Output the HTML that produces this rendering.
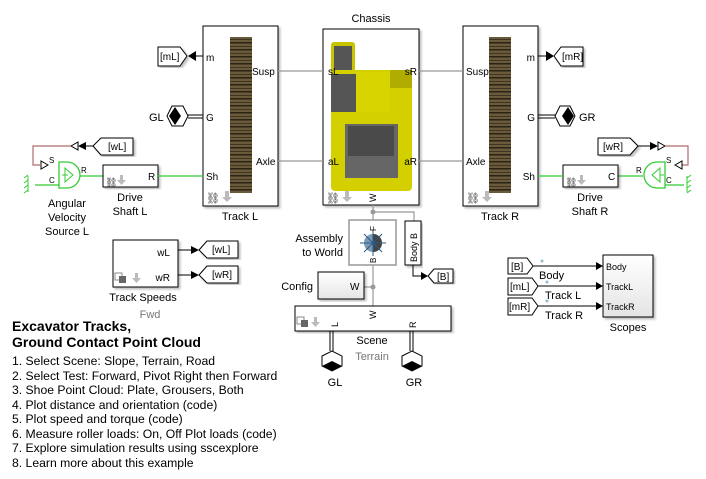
<!DOCTYPE html>
<html><head><meta charset="utf-8"><style>
body{margin:0;background:#fff;}
svg{display:block;font-family:"Liberation Sans",Arial,sans-serif;}
</style></head><body>
<svg width="706" height="479" viewBox="0 0 706 479" xmlns="http://www.w3.org/2000/svg">
<defs>
<pattern id="stripes" width="22" height="7" patternUnits="userSpaceOnUse">
<rect width="22" height="7" fill="#6a5a3a"/><rect y="0" width="22" height="1.5" fill="#2a2416"/><rect y="4" width="22" height="1" fill="#3e3524"/></pattern>
<linearGradient id="gb" x1="0" y1="0" x2="0" y2="1"><stop offset="0" stop-color="#fff"/><stop offset="1" stop-color="#e4e4e4"/></linearGradient>
<filter id="sh" x="-5%" y="-5%" width="115%" height="115%"><feDropShadow dx="2" dy="2" stdDeviation="1" flood-color="#000" flood-opacity="0.25"/></filter>
</defs>
<g font-size="11" fill="#000">
<rect x="203" y="26" width="75" height="180" fill="#fff" stroke="#000" filter="url(#sh)"/>
<rect x="230" y="37" width="22" height="156" fill="url(#stripes)"/>
<text x="206" y="61" font-size="10">m</text>
<text x="252" y="75" font-size="10">Susp</text>
<text x="206" y="121" font-size="10">G</text>
<text x="256" y="165" font-size="10">Axle</text>
<text x="206" y="180" font-size="10">Sh</text>
<text x="240" y="220" text-anchor="middle">Track L</text>
<text x="206" y="202" fill="#333">⛓</text><path d="M225 191h4v6h3l-5 5-5-5h3z" fill="#bbb"/>
<rect x="463" y="26" width="75" height="180" fill="#fff" stroke="#000" filter="url(#sh)"/>
<rect x="489" y="37" width="22" height="156" fill="url(#stripes)"/>
<text x="535" y="61" font-size="10" text-anchor="end">m</text>
<text x="466" y="75" font-size="10">Susp</text>
<text x="535" y="121" font-size="10" text-anchor="end">G</text>
<text x="466" y="165" font-size="10">Axle</text>
<text x="535" y="180" font-size="10" text-anchor="end">Sh</text>
<text x="500" y="220" text-anchor="middle">Track R</text>
<text x="466" y="202" fill="#333">⛓</text><path d="M485 191h4v6h3l-5 5-5-5h3z" fill="#bbb"/>
<text x="371" y="22" text-anchor="middle">Chassis</text>
<rect x="323" y="29" width="96" height="176" fill="#fff" stroke="#000" filter="url(#sh)"/>
<rect x="331" y="42" width="24" height="40" rx="3" fill="#c8c400"/>
<rect x="334" y="46" width="18" height="30" fill="#555"/>
<rect x="331" y="70" width="81" height="121" rx="4" fill="#d4d000"/>
<rect x="331" y="74" width="25" height="38" fill="#555"/>
<rect x="356" y="72" width="34" height="40" fill="#d8d400"/>
<rect x="390" y="70" width="22" height="18" fill="#b0ac00"/>
<rect x="345" y="124" width="53" height="54" fill="#666"/>
<rect x="348" y="126" width="46" height="30" fill="#4a4a4a"/>
<text x="328" y="75" font-size="10">sL</text>
<text x="328" y="165" font-size="10">aL</text>
<text x="417" y="75" font-size="10" text-anchor="end">sR</text>
<text x="417" y="165" font-size="10" text-anchor="end">aR</text>
<text x="326" y="202" fill="#333">⛓</text><path d="M345 191h4v6h3l-5 5-5-5h3z" fill="#bbb"/>
<text transform="translate(376,202) rotate(-90)" font-size="9">W</text>
<g stroke="#999" stroke-width="1.2">
<line x1="278" y1="71" x2="323" y2="71"/><line x1="278" y1="161" x2="323" y2="161"/>
<line x1="419" y1="71" x2="463" y2="71"/><line x1="419" y1="161" x2="463" y2="161"/>
<polyline points="373,205 373,288 373,306" fill="none"/>
<polyline points="373,212 414,212 414,221" fill="none"/>
<line x1="364" y1="287" x2="373" y2="287"/>
</g>
<circle cx="373" cy="212" r="2.5" fill="#999"/><circle cx="373" cy="287" r="2.5" fill="#999"/>
<polygon points="158,47 180,47 187,56 180,66 158,66" fill="#fff" stroke="#000" filter="url(#sh)"/>
<text x="160" y="60" font-size="10">[mL]</text>
<polygon points="188,56 196,51 196,61" fill="#000"/><line x1="196" y1="56" x2="203" y2="56" stroke="#000"/>
<polygon points="172,106 183,106 188,116 183,126 172,126 167,116" fill="#fff" stroke="#000"/>
<polygon points="175,107 181,116 175,125 169,116" fill="#000"/>
<line x1="188" y1="115" x2="203" y2="115" stroke="#000"/><line x1="188" y1="118" x2="203" y2="118" stroke="#000"/>
<text x="149" y="121" font-size="11">GL</text>
<line x1="538" y1="56" x2="546" y2="56" stroke="#000"/><polygon points="554,56 546,51 546,61" fill="#000"/>
<polygon points="554,56 561,47 583,47 583,66 561,66" fill="#fff" stroke="#000" filter="url(#sh)"/>
<text x="562" y="60" font-size="10">[mR]</text>
<line x1="538" y1="115" x2="555" y2="115" stroke="#000"/><line x1="538" y1="118" x2="555" y2="118" stroke="#000"/>
<polygon points="560,106 570,106 575,116 570,126 560,126 555,116" fill="#fff" stroke="#000"/>
<polygon points="568,107 574,116 568,125 562,116" fill="#000"/>
<text x="579" y="121" font-size="11">GR</text>
<polygon points="93,146 101,138 133,138 133,155 101,155" fill="#fff" stroke="#000" filter="url(#sh)"/>
<text x="108" y="150" font-size="10">[wL]</text>
<line x1="85" y1="146" x2="93" y2="146" stroke="#000"/><polygon points="78,146 86,142 86,150" fill="#000"/><polygon points="71,146 78,142 78,150" fill="#fff" stroke="#000"/>
<polyline points="71,146 33,146 33,165 40,165" fill="none" stroke="#b06a6a" stroke-width="1.2"/>
<polygon points="48,165 41,161 41,169" fill="#fff" stroke="#000"/>
<path d="M59,162 h8 a13,13 0 0 1 0,26 h-8 z" fill="#fff" stroke="#3c3" stroke-width="1.3"/>
<path d="M65,168 l8,7 l-8,7 z M62,175h6" fill="none" stroke="#3c3"/>
<text x="49" y="163" font-size="8">S</text><text x="49" y="183" font-size="8">C</text><text x="81" y="173" font-size="8">R</text>
<line x1="35" y1="185" x2="59" y2="185" stroke="#3c3" stroke-width="1.3"/>
<path d="M28,176v16 M24,178l4,-3 M24,183l4,-3 M24,188l4,-3 M24,193l4,-3" stroke="#3c3" fill="none"/>
<line x1="80" y1="176" x2="103" y2="176" stroke="#3c3" stroke-width="1.3"/>
<text x="67" y="207" text-anchor="middle" font-size="11">Angular</text>
<text x="67" y="221" text-anchor="middle" font-size="11">Velocity</text>
<text x="67" y="235" text-anchor="middle" font-size="11">Source L</text>
<rect x="103" y="165" width="55" height="22" fill="#fff" stroke="#000" filter="url(#sh)"/>
<text x="148" y="180" font-size="10">R</text>
<text x="105" y="186" font-size="10" fill="#333">⛓</text><path d="M120 175h3v5h3l-4.5 5-4.5-5h3z" fill="#bbb"/>
<line x1="158" y1="176" x2="203" y2="176" stroke="#3c3" stroke-width="1.3"/>
<text x="130" y="201" text-anchor="middle">Drive</text><text x="130" y="215" text-anchor="middle">Shaft L</text>
<polygon points="598,138 630,138 638,146 630,155 598,155" fill="#fff" stroke="#000" filter="url(#sh)"/>
<text x="603" y="150" font-size="10">[wR]</text>
<line x1="638" y1="146" x2="651" y2="146" stroke="#000"/><polygon points="658,146 650,142 650,150" fill="#000"/><polygon points="665,146 658,142 658,150" fill="#fff" stroke="#000"/>
<polyline points="665,146 688,146 688,165 682,165" fill="none" stroke="#b06a6a" stroke-width="1.2"/>
<polygon points="675,165 682,161 682,169" fill="#fff" stroke="#000"/>
<path d="M665,162 h-8 a13,13 0 0 0 0,26 h8 z" fill="#fff" stroke="#3c3" stroke-width="1.3"/>
<path d="M660,168 l-8,7 l8,7 z M660,175h4" fill="none" stroke="#3c3"/>
<text x="666" y="163" font-size="8">S</text><text x="666" y="183" font-size="8">C</text><text x="636" y="173" font-size="8">R</text>
<line x1="665" y1="185" x2="684" y2="185" stroke="#3c3" stroke-width="1.3"/>
<path d="M687,176v16 M687,178l4,-3 M687,183l4,-3 M687,188l4,-3 M687,193l4,-3" stroke="#3c3" fill="none"/>
<line x1="618" y1="176" x2="643" y2="176" stroke="#3c3" stroke-width="1.3"/>
<rect x="563" y="165" width="55" height="22" fill="#fff" stroke="#000" filter="url(#sh)"/>
<text x="608" y="180" font-size="10">C</text>
<text x="565" y="186" font-size="10" fill="#333">⛓</text><path d="M580 175h3v5h3l-4.5 5-4.5-5h3z" fill="#bbb"/>
<line x1="538" y1="176" x2="563" y2="176" stroke="#3c3" stroke-width="1.3"/>
<text x="590" y="201" text-anchor="middle">Drive</text><text x="590" y="215" text-anchor="middle">Shaft R</text>
<rect x="349" y="220" width="47" height="45" fill="#fff" stroke="#999" stroke-width="1.5"/>
<circle cx="373" cy="243" r="9" fill="#7a9ab5"/><path d="M373,234 a9,9 0 0 1 0,18z" fill="#444"/>
<g stroke="#2a5a8a"><line x1="360" y1="243" x2="386" y2="243"/><line x1="373" y1="230" x2="373" y2="256"/><line x1="364" y1="234" x2="382" y2="252"/><line x1="382" y1="234" x2="364" y2="252"/></g>
<text transform="translate(376,231) rotate(-90)" font-size="8">F</text>
<text transform="translate(376,263) rotate(-90)" font-size="8">B</text>
<text x="343" y="242" text-anchor="end">Assembly</text><text x="343" y="256" text-anchor="end">to World</text>
<rect x="405" y="221" width="16" height="44" fill="#fff" stroke="#000" filter="url(#sh)"/>
<text transform="translate(417,262) rotate(-90)" font-size="9">Body  B</text>
<polyline points="413,265 413,276 421,276" fill="none" stroke="#000"/><polygon points="428,276 421,272 421,280" fill="#000"/>
<polygon points="428,276 434,269 453,269 453,283 434,283" fill="#fff" stroke="#000" filter="url(#sh)"/>
<text x="437" y="280" font-size="10">[B]</text>
<rect x="318" y="272" width="46" height="27" fill="url(#gb)" stroke="#000" filter="url(#sh)"/>
<text x="350" y="290" font-size="10">W</text>
<text x="313" y="290" text-anchor="end">Config</text>
<rect x="295" y="306" width="156" height="25" fill="#fff" stroke="#000" filter="url(#sh)"/>
<text transform="translate(376,319) rotate(-90)" font-size="9">W</text>
<text transform="translate(338,327) rotate(-90)" font-size="9">L</text>
<text transform="translate(416,328) rotate(-90)" font-size="9">R</text>
<rect x="297" y="317" width="7" height="7" fill="#fff" stroke="#888"/><rect x="301" y="320" width="7" height="7" fill="#666"/>
<path d="M314 317h3v5h3l-4.5 5-4.5-5h3z" fill="#bbb"/>
<text x="372" y="344" text-anchor="middle">Scene</text>
<text x="372" y="360" text-anchor="middle" fill="#777">Terrain</text>
<g stroke="#000"><line x1="330" y1="331" x2="330" y2="351"/><line x1="333" y1="331" x2="333" y2="351"/><line x1="410" y1="331" x2="410" y2="351"/><line x1="413" y1="331" x2="413" y2="351"/></g>
<polygon points="322,356 332,351 342,356 342,366 332,371 322,366" fill="#fff" stroke="#000"/><polygon points="322,366 332,361 342,366 332,371" fill="#000"/>
<polygon points="402,356 412,351 422,356 422,366 412,371 402,366" fill="#fff" stroke="#000"/><polygon points="402,366 412,361 422,366 412,371" fill="#000"/>
<text x="335" y="386" text-anchor="middle" font-size="11">GL</text>
<text x="414" y="386" text-anchor="middle" font-size="11">GR</text>
<rect x="113" y="240" width="65" height="47" fill="#fff" stroke="#000" filter="url(#sh)"/>
<text x="170" y="256" font-size="10" text-anchor="end">wL</text>
<text x="170" y="281" font-size="10" text-anchor="end">wR</text>
<rect x="115" y="273" width="7" height="7" fill="#fff" stroke="#888"/><rect x="119" y="276" width="7" height="7" fill="#666"/>
<path d="M135 273h3v5h3l-4.5 5-4.5-5h3z" fill="#bbb"/>
<text x="143" y="301" text-anchor="middle">Track Speeds</text>
<text x="150" y="318" text-anchor="middle" fill="#777">Fwd</text>
<line x1="178" y1="250" x2="192" y2="250" stroke="#000"/><polygon points="199,250 191,246 191,254" fill="#000"/>
<polygon points="199,250 207,241 238,241 238,258 207,258" fill="#fff" stroke="#000" filter="url(#sh)"/>
<text x="212" y="253" font-size="10">[wL]</text>
<line x1="178" y1="275" x2="192" y2="275" stroke="#000"/><polygon points="199,275 191,271 191,279" fill="#000"/>
<polygon points="199,275 207,266 238,266 238,283 207,283" fill="#fff" stroke="#000" filter="url(#sh)"/>
<text x="212" y="278" font-size="10">[wR]</text>
<rect x="603" y="255" width="50" height="62" fill="url(#gb)" stroke="#000" filter="url(#sh)"/>
<text x="606" y="270" font-size="9">Body</text><text x="606" y="290" font-size="9">TrackL</text><text x="606" y="310" font-size="9">TrackR</text>
<text x="628" y="331" text-anchor="middle">Scopes</text>
<polygon points="508,258 527,258 533,266 527,274 508,274" fill="#fff" stroke="#000"/><text x="511" y="270" font-size="10">[B]</text>
<polygon points="508,278 532,278 538,286 532,295 508,295" fill="#fff" stroke="#000"/><text x="510" y="290" font-size="10">[mL]</text>
<polygon points="508,298 532,298 538,306 532,315 508,315" fill="#fff" stroke="#000"/><text x="509" y="310" font-size="10">[mR]</text>
<g stroke="#000"><line x1="533" y1="266" x2="596" y2="266"/><line x1="538" y1="286" x2="596" y2="286"/><line x1="538" y1="306" x2="596" y2="306"/></g>
<polygon points="603,266 596,262 596,270" fill="#000"/><polygon points="603,286 596,282 596,290" fill="#000"/><polygon points="603,306 596,302 596,310" fill="#000"/>
<text x="539" y="279" font-size="11">Body</text><text x="545" y="299" font-size="11">Track L</text><text x="545" y="319" font-size="11">Track R</text>
<circle cx="542" cy="261" r="1.5" fill="#9bc"/><circle cx="547" cy="282" r="1.5" fill="#9bc"/><circle cx="547" cy="301" r="1.5" fill="#9bc"/>
<text x="12" y="331" font-size="14" font-weight="bold">Excavator Tracks,</text>
<text x="12" y="347" font-size="14" font-weight="bold">Ground Contact Point Cloud</text>
<g font-size="12.2">
<text x="12" y="365">1. Select Scene: Slope, Terrain, Road</text>
<text x="12" y="380">2. Select Test: Forward, Pivot Right then Forward</text>
<text x="12" y="394">3. Shoe Point Cloud: Plate, Grousers, Both</text>
<text x="12" y="409">4. Plot distance and orientation (code)</text>
<text x="12" y="423">5. Plot speed and torque (code)</text>
<text x="12" y="438">6. Measure roller loads: On, Off  Plot loads (code)</text>
<text x="12" y="452">7. Explore simulation results using sscexplore</text>
<text x="12" y="467">8. Learn more about this example</text>
</g>
</g>
</svg>
</body></html>
